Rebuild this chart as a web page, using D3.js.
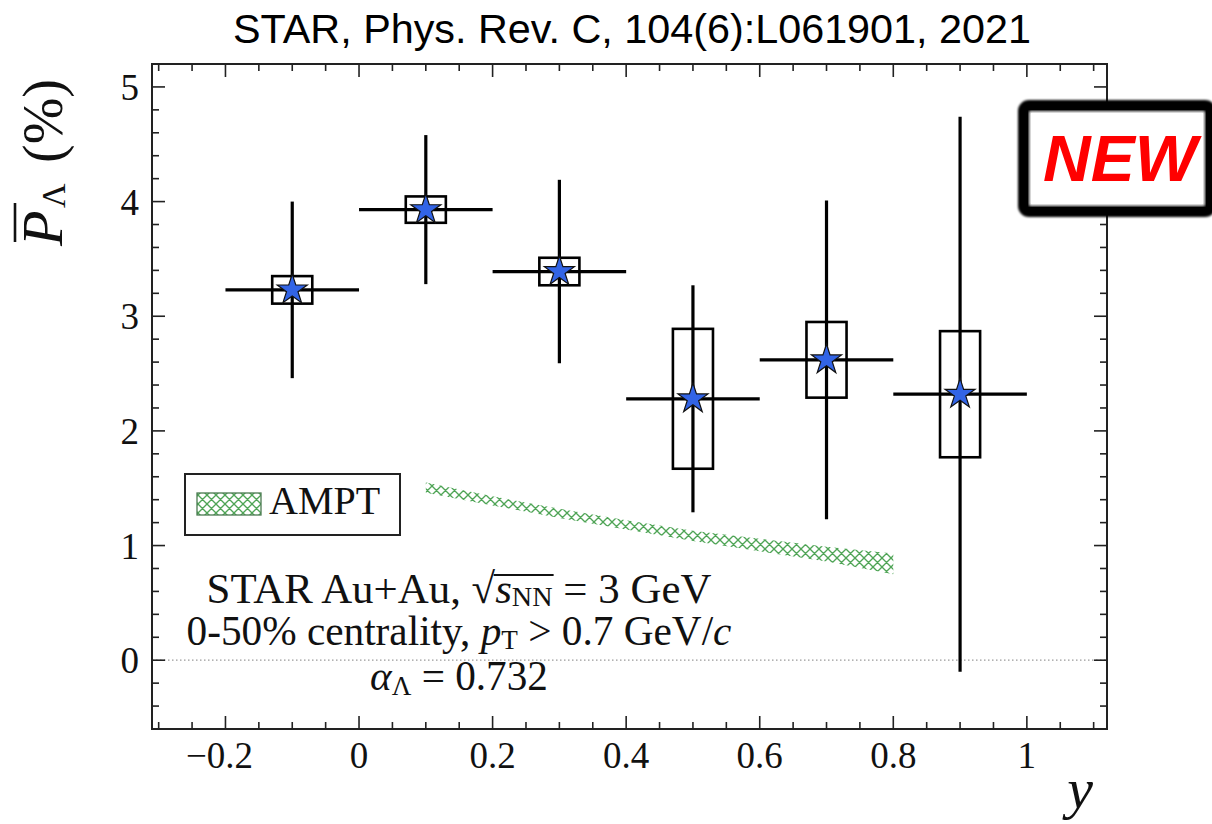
<!DOCTYPE html>
<html>
<head>
<meta charset="utf-8">
<script src="https://cdn.jsdelivr.net/npm/d3@7"></script>
<style>
  html, body { margin: 0; padding: 0; background: #fff; }
  svg { display: block; }
  text.piece { white-space: pre; }
</style>
</head>
<body>
<svg id="chart" width="1212" height="824"></svg>
<script>
// ---------------- data ----------------
const rapidity = [-0.1, 0.1, 0.3, 0.5, 0.7, 0.9];
const polarization = [3.23, 3.93, 3.39, 2.28, 2.62, 2.32];
const statErr = [0.77, 0.65, 0.80, 0.99, 1.39, 2.42];
const sysErr = [0.12, 0.115, 0.12, 0.61, 0.33, 0.55];
const binHalfWidth = 0.1;

const amptY = [0.1, 0.2, 0.3, 0.4, 0.5, 0.6, 0.7, 0.8];
const amptUpper = [1.55, 1.43, 1.32, 1.22, 1.13, 1.06, 0.99, 0.93];
const amptLower = [1.46, 1.35, 1.24, 1.14, 1.04, 0.95, 0.86, 0.75];

const xTickValues = [-0.2, 0, 0.2, 0.4, 0.6, 0.8, 1];
const xTickLabels = ["\u22120.2", "0", "0.2", "0.4", "0.6", "0.8", "1"];
const yTickValues = [0, 1, 2, 3, 4, 5];
const yTickLabels = ["0", "1", "2", "3", "4", "5"];

const titleText = "STAR, Phys. Rev. C, 104(6):L061901, 2021";

// ---------------- layout ----------------
const svg = d3.select("#chart");
const L = 152, R = 1107, T = 64, B = 729;
const x = d3.scaleLinear().domain([-0.31, 1.12]).range([L, R]);
const y = d3.scaleLinear().domain([-0.6, 5.2]).range([B, T]);

const serif = "'Liberation Serif', 'DejaVu Serif', serif";

// pattern for AMPT hatch
const defs = svg.append("defs");
const pat = defs.append("pattern")
  .attr("id", "hatch").attr("patternUnits", "userSpaceOnUse")
  .attr("width", 9).attr("height", 9);
pat.append("path").attr("d", "M0,0 L9,9 M9,0 L0,9 M-1,8 L1,10 M8,-1 L10,1 M-1,1 L1,-1 M8,10 L10,8")
  .attr("stroke", "#4fa456").attr("stroke-width", 1.35).attr("fill", "none");
const blur = defs.append("filter").attr("id", "soft").attr("x", "-10%").attr("y", "-10%").attr("width", "120%").attr("height", "120%");
blur.append("feGaussianBlur").attr("stdDeviation", 1.2);

// title
svg.append("text")
  .attr("x", 632).attr("y", 43).attr("text-anchor", "middle")
  .attr("font-family", "'Liberation Sans', Arial, sans-serif")
  .attr("font-size", 40).attr("fill", "#000")
  .attr("textLength", 798).attr("lengthAdjust", "spacingAndGlyphs")
  .text(titleText);

// ---------------- AMPT band ----------------
const amptData = amptY.map((v, i) => ({ x: v, lo: amptLower[i], hi: amptUpper[i] }));
svg.append("path")
  .datum(amptData)
  .attr("d", d3.area().x(d => x(d.x)).y0(d => y(d.lo)).y1(d => y(d.hi)))
  .attr("fill", "url(#hatch)").attr("stroke", "none");

// zero line
svg.append("line")
  .attr("x1", L).attr("x2", R).attr("y1", y(0)).attr("y2", y(0))
  .attr("stroke", "#9a9a9a").attr("stroke-width", 1.3).attr("stroke-dasharray", "1.5,2.5");

// ---------------- data points ----------------
const pts = rapidity.map((r, i) => ({ r, p: polarization[i], s: statErr[i], sys: sysErr[i] }));
const g = svg.append("g");
const boxHalf = 0.03;
g.selectAll("rect.sys").data(pts).join("rect")
  .attr("class", "sys")
  .attr("x", d => x(d.r - boxHalf)).attr("width", d => x(d.r + boxHalf) - x(d.r - boxHalf))
  .attr("y", d => y(d.p + d.sys)).attr("height", d => y(d.p - d.sys) - y(d.p + d.sys))
  .attr("fill", "none").attr("stroke", "#000").attr("stroke-width", 2.6);
g.selectAll("line.stat").data(pts).join("line")
  .attr("class", "stat")
  .attr("x1", d => x(d.r)).attr("x2", d => x(d.r))
  .attr("y1", d => y(d.p + d.s)).attr("y2", d => y(d.p - d.s))
  .attr("stroke", "#000").attr("stroke-width", 3.2);
g.selectAll("line.bin").data(pts).join("line")
  .attr("class", "bin")
  .attr("x1", d => x(d.r - binHalfWidth)).attr("x2", d => x(d.r + binHalfWidth))
  .attr("y1", d => y(d.p)).attr("y2", d => y(d.p))
  .attr("stroke", "#000").attr("stroke-width", 3.2);
g.selectAll("path.star").data(pts).join("path")
  .attr("class", "star")
  .attr("transform", d => `translate(${x(d.r)},${y(d.p)})`)
  .attr("d", d3.symbol(d3.symbolStar, 280))
  .attr("fill", "#3264e6").attr("stroke", "#111").attr("stroke-width", 1.2);

// ---------------- frame & ticks ----------------
const ax = svg.append("g");
ax.append("rect").attr("x", L).attr("y", T).attr("width", R - L).attr("height", B - T)
  .attr("fill", "none").attr("stroke", "#222").attr("stroke-width", 2);

const xMinor = d3.range(-0.3, 1.1001, 0.05).map(v => +v.toFixed(2));
const yMinor = d3.range(-0.6, 5.2001, 0.2).map(v => +v.toFixed(2));
const isMajorX = v => xTickValues.some(t => Math.abs(t - v) < 1e-6);
const isMajorY = v => yTickValues.some(t => Math.abs(t - v) < 1e-6);

xMinor.forEach(v => {
  const len = isMajorX(v) ? 13 : 7;
  const px = x(v);
  ax.append("line").attr("x1", px).attr("x2", px).attr("y1", B).attr("y2", B - len).attr("stroke", "#222").attr("stroke-width", 1.6);
  ax.append("line").attr("x1", px).attr("x2", px).attr("y1", T).attr("y2", T + len).attr("stroke", "#222").attr("stroke-width", 1.6);
});
yMinor.forEach(v => {
  const len = isMajorY(v) ? 13 : 7;
  const py = y(v);
  ax.append("line").attr("x1", L).attr("x2", L + len).attr("y1", py).attr("y2", py).attr("stroke", "#222").attr("stroke-width", 1.6);
  ax.append("line").attr("x1", R).attr("x2", R - len).attr("y1", py).attr("y2", py).attr("stroke", "#222").attr("stroke-width", 1.6);
});

// tick labels
xTickValues.forEach((v, i) => {
  ax.append("text").attr("x", x(v) - (v < 0 ? 6 : 0)).attr("y", 768)
    .attr("text-anchor", "middle").attr("font-family", serif).attr("font-size", 37)
    .attr("fill", "#111").text(xTickLabels[i]);
});
yTickValues.forEach((v, i) => {
  ax.append("text").attr("x", 139).attr("y", y(v) + 13)
    .attr("text-anchor", "end").attr("font-family", serif).attr("font-size", 37)
    .attr("fill", "#111").text(yTickLabels[i]);
});

// axis labels
svg.append("text").attr("x", 1080).attr("y", 808).attr("text-anchor", "middle")
  .attr("font-family", serif).attr("font-style", "italic").attr("font-size", 58)
  .attr("fill", "#111").text("y");

const yl = svg.append("g").attr("transform", "translate(62,163) rotate(-90)");
yl.append("text").attr("x", -83).attr("y", 0).attr("font-family", serif)
  .attr("font-style", "italic").attr("font-size", 58).attr("fill", "#111").text("P");
yl.append("line").attr("x1", -79).attr("x2", -40).attr("y1", -47).attr("y2", -47)
  .attr("stroke", "#111").attr("stroke-width", 2.6);
yl.append("text").attr("x", -45).attr("y", 3).attr("font-family", serif)
  .attr("font-size", 34).attr("fill", "#111").text("\u039B");
yl.append("text").attr("x", 0).attr("y", 0).attr("font-family", serif)
  .attr("font-size", 56).attr("fill", "#111").text("(%)");

// ---------------- legend ----------------
svg.append("rect").attr("x", 185).attr("y", 474).attr("width", 215).attr("height", 61)
  .attr("fill", "#fff").attr("stroke", "#222").attr("stroke-width", 2);
svg.append("rect").attr("x", 197).attr("y", 493).attr("width", 64).attr("height", 22)
  .attr("fill", "url(#hatch)").attr("stroke", "#4a7a50").attr("stroke-width", 1.3);
svg.append("text").attr("x", 269).attr("y", 514).attr("font-family", serif)
  .attr("font-size", 40).attr("fill", "#111").text("AMPT");

// ---------------- annotation (composed from pieces) ----------------
function composeLine(pieces, cx, baseline, target) {
  const grp = svg.append("g");
  const nodes = pieces.map(p => grp.append("text").attr("class", "piece")
    .attr("font-family", serif).attr("font-size", p.fs)
    .attr("font-style", p.it ? "italic" : "normal").attr("fill", "#111")
    .text(p.t));
  let W = d3.sum(nodes, n => n.node().getComputedTextLength());
  const k = target / W;
  nodes.forEach((n, i) => n.attr("font-size", pieces[i].fs * k));
  const widths = nodes.map(n => n.node().getComputedTextLength());
  W = d3.sum(widths);
  let cur = cx - W / 2;
  nodes.forEach((n, i) => {
    n.attr("x", cur).attr("y", baseline + (pieces[i].dy || 0) * k);
    cur += widths[i];
  });
  return { k, nodes, grp };
}

const r1 = composeLine([
  { t: "STAR Au+Au, \u221A", fs: 38 },
  { t: "s", fs: 38, it: true },
  { t: "NN", fs: 25, dy: 3 },
  { t: " = 3 GeV", fs: 38 }
], 459, 603, 505);
{
  const b0 = r1.nodes[0].node().getBBox();
  const b2 = r1.nodes[2].node().getBBox();
  let xa = b0.x + b0.width - 2, xb = b2.x + b2.width + 1;
  if (!isFinite(xa) || !isFinite(xb) || xb - xa < 10) { xa = 475; xb = 555; }
  r1.grp.append("path")
    .attr("d", `M${xa},${575}H${xb}`)
    .attr("stroke", "#111").attr("stroke-width", 1.8).attr("fill", "none");
}

composeLine([
  { t: "0-50% centrality, ", fs: 38 },
  { t: "p", fs: 38, it: true },
  { t: "T", fs: 25, dy: 4 },
  { t: " > 0.7 GeV/", fs: 38 },
  { t: "c", fs: 38, it: true }
], 459, 645, 545);

composeLine([
  { t: "\u03B1", fs: 38, it: true },
  { t: "\u039B", fs: 25, dy: 5 },
  { t: " = 0.732", fs: 38 }
], 459, 690, 178);

// ---------------- NEW badge ----------------
svg.append("rect").attr("x", 1024).attr("y", 106).attr("width", 186).attr("height", 105)
  .attr("rx", 5).attr("fill", "#fff").attr("stroke", "#000").attr("stroke-width", 12)
  .attr("filter", "url(#soft)");
svg.append("rect").attr("x", 1031).attr("y", 113).attr("width", 172).attr("height", 91)
  .attr("fill", "#fff");
svg.append("text").attr("x", 1120).attr("y", 181).attr("text-anchor", "middle")
  .attr("font-family", "'Liberation Sans', Arial, sans-serif").attr("font-weight", "bold")
  .attr("font-style", "italic").attr("font-size", 64).attr("fill", "#ff0000")
  .attr("textLength", 154).attr("lengthAdjust", "spacingAndGlyphs").text("NEW");
</script>
</body>
</html>
